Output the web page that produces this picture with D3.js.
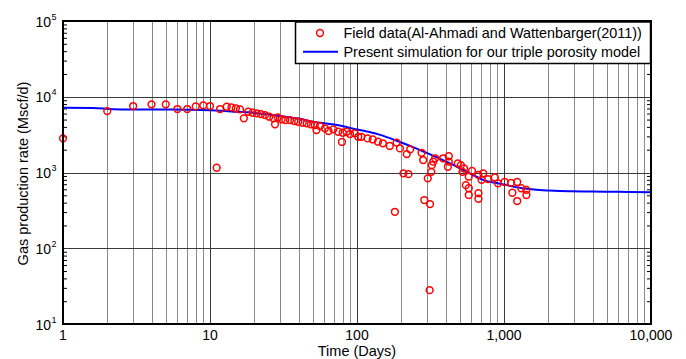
<!DOCTYPE html>
<html><head><meta charset="utf-8">
<script src="https://cdn.jsdelivr.net/npm/d3@7"></script>
<style>body{margin:0;background:#fff}svg{display:block;font-family:"Liberation Sans",Arial,sans-serif}</style>
</head><body><svg id="c" width="686" height="359"></svg>
<script>
// Field data (time in days, gas rate in Mscf/d)
const fieldTime = [1,2,3,4,5,6,7,8,9,10,11.1,11.7,13,14,15,16,17,18.2,19.5,20.8,22.2,23.7,25.3,27,27.7,28.9,30.7,32.5,35,37.5,39.8,42.7,45.5,48.6,51.6,53,56,60.5,64,69,74.6,79,80,85,89.6,96.6,102,107,118,128,139,150,167,181,186,196,207,218,224,230,275,282,287,303,312,314,320,323,330,340,385,415,421,421,485,509,522,535,550,576,576,576,606,670,670,670,704,722,778,866,910,1010,1117,1140,1230,1230,1310,1420,1420];
const fieldRate = [2825,6470,7540,7940,7940,6880,6880,7460,7700,7540,1156,6880,7380,7230,7040,6810,5190,6340,6150,6030,5900,5730,5450,5190,4320,5350,5030,4920,4920,4770,4680,4540,4450,4320,4230,3630,4100,3830,3530,3710,3450,2530,3350,3450,3220,3290,2960,2960,2820,2730,2550,2430,2240,303,2480,2080,975,1750,950,2020,1820,1460,433,837,28,383,1020,1250,1390,1540,1540,1190,1640,1390,1320,1250,1020,1130,680,620,505,880,1050,930,533,450,800,975,820,860,720,750,730,540,420,750,620,505,590];
// Simulation (triple porosity model)
const simTime = [1,1.6,2.2,3,5,7,10,14,18,25,30,40,50,70,100,140,196,250,300,430,615,720,940,1300,1600,2000,2400,4000,6000,10000];
const simRate = [7150,7100,6850,6800,6780,6750,6650,6400,6220,5850,5560,5150,4680,4300,3700,3190,2530,2100,1800,1320,925,800,712,625,595,578,569,560,555,547];
// Axis ticks
const xTickValues = [1,10,100,1000,10000];
const xTickLabels = ["1","10","100","1,000","10,000"];
const yTickValues = [10,100,1000,10000,100000];
const yTickExps = ["1","2","3","4","5"];
const legendLabels = ["Field data(Al-Ahmadi and Wattenbarger(2011))","Present simulation for our triple porosity model"];

const svg = d3.select("#c");
const L=63,R=651,T=21,B=324;
const x = d3.scaleLog().domain([1,10000]).range([L,R]);
const y = d3.scaleLog().domain([10,100000]).range([B,T]);

// vertical grid
const vgrid=[];
for (let d=1; d<10000; d*=10) for (let k=1;k<10;k++) vgrid.push({v:k*d,major:k===1});
svg.append("g").selectAll("line").data(vgrid).join("line")
  .attr("x1",d=>Math.round(x(d.v))+0.5).attr("x2",d=>Math.round(x(d.v))+0.5)
  .attr("y1",T).attr("y2",B)
  .attr("stroke",d=>d.major?"#3a3a3a":"#8a8a8a").attr("stroke-width",1);
// horizontal grid
svg.append("g").selectAll("line").data(yTickValues.slice(1,-1)).join("line")
  .attr("x1",L).attr("x2",R).attr("y1",d=>Math.round(y(d))+0.5).attr("y2",d=>Math.round(y(d))+0.5)
  .attr("stroke","#3a3a3a").attr("stroke-width",1);

// minor y ticks left/right (inward)
const ymin=[];
for (let d=10; d<100000; d*=10) for (let k=2;k<10;k++) ymin.push(k*d);
const yAxisL = d3.axisLeft(y).tickValues(ymin).tickSize(-4).tickFormat("");
const yAxisR = d3.axisRight(y).tickValues(ymin).tickSize(-4).tickFormat("");
const gl=svg.append("g").attr("transform",`translate(${L},0)`).call(yAxisL);
const gr=svg.append("g").attr("transform",`translate(${R},0)`).call(yAxisR);
[gl,gr].forEach(g=>{g.select(".domain").remove();g.selectAll("line").attr("stroke","#000");});

// x tick labels
svg.append("g").selectAll("text").data(xTickValues).join("text")
  .attr("x",d=>x(d)).attr("y",340).attr("text-anchor","middle")
  .attr("font-size",14).attr("fill","#000").text((d,i)=>xTickLabels[i]);
// y tick labels with superscripts
svg.append("g").selectAll("text").data(yTickValues).join("text")
  .attr("x",51).attr("y",d=>y(d)+5.5).attr("text-anchor","end")
  .attr("font-size",14).attr("fill","#000").text("10");
svg.append("g").selectAll("text").data(yTickValues).join("text")
  .attr("x",51.5).attr("y",d=>y(d)-1.5).attr("text-anchor","start")
  .attr("font-size",9).attr("fill","#000").text((d,i)=>yTickExps[i]);

// axis titles
svg.append("text").attr("x",(L+R)/2).attr("y",356).attr("text-anchor","middle")
  .attr("font-size",14.5).text("Time (Days)");
svg.append("text").attr("transform",`translate(28,${(T+B)/2+1}) rotate(-90)`).attr("text-anchor","middle")
  .attr("font-size",14.5).text("Gas production rate (Mscf/d)");

// simulation line
const simData = simTime.map((t,i)=>[t,simRate[i]]);
svg.append("path").datum(simData)
  .attr("d",d3.line().x(d=>x(d[0])).y(d=>y(d[1])).curve(d3.curveMonotoneX))
  .attr("fill","none").attr("stroke","#0000ff").attr("stroke-width",2);

// field data
const fd = fieldTime.map((t,i)=>[t,fieldRate[i]]);
svg.append("g").selectAll("circle").data(fd).join("circle")
  .attr("cx",d=>x(d[0])).attr("cy",d=>y(d[1])).attr("r",3.4)
  .attr("fill","none").attr("stroke","#ff0000").attr("stroke-width",1.5);

// frame
svg.append("rect").attr("x",L).attr("y",T).attr("width",R-L).attr("height",B-T)
  .attr("fill","none").attr("stroke","#000").attr("stroke-width",2);

// legend
const lg = svg.append("g");
lg.append("rect").attr("x",295.5).attr("y",22).attr("width",355).attr("height",41.5)
  .attr("fill","#fff").attr("stroke","#000").attr("stroke-width",1.5);
lg.append("circle").attr("cx",320).attr("cy",33).attr("r",3.4)
  .attr("fill","none").attr("stroke","#ff0000").attr("stroke-width",1.5);
lg.append("line").attr("x1",303).attr("x2",338).attr("y1",51.7).attr("y2",51.7)
  .attr("stroke","#0000ff").attr("stroke-width",2);
lg.selectAll("text").data(legendLabels).join("text")
  .attr("x",343.5).attr("y",(d,i)=>i?56.8:38.3).attr("font-size",14.4).text(d=>d);
</script></body></html>
